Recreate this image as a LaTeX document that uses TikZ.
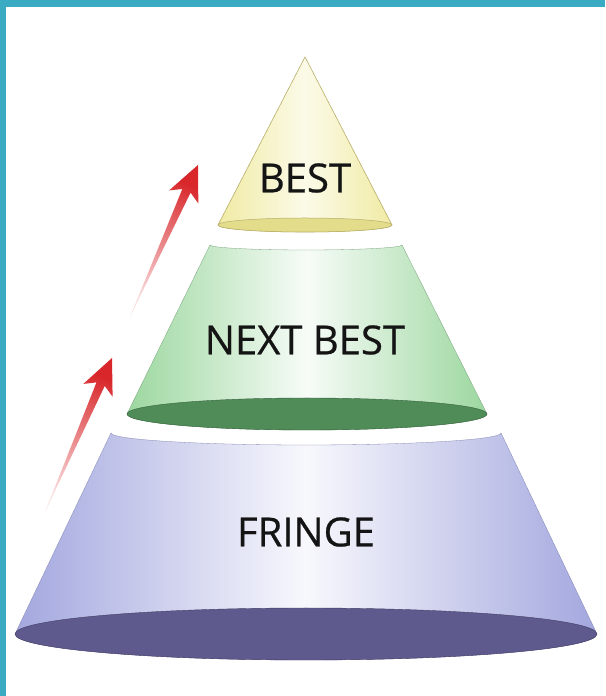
\documentclass[tikz,border=0pt]{standalone}
\usepackage{fontspec}
\setmainfont{Open Sans}
\newfontfamily\tierfont{Open Sans}[FakeBold=0.6]
\usetikzlibrary{calc}
\definecolor{frameteal}{HTML}{3BABC4}
\definecolor{bestyellow}{HTML}{F0EBA4}
\definecolor{bestedge}{HTML}{B8AE68}
\definecolor{bestbase}{HTML}{E3DC8B}
\definecolor{nextgreen}{HTML}{9CD79F}
\definecolor{nextbase}{HTML}{4F8C58}
\definecolor{fringeblue}{HTML}{A3A7DE}
\definecolor{fringebase}{HTML}{5E5A8E}
\definecolor{riserred}{HTML}{D8262A}

\begin{document}
\begin{tikzpicture}[x=1pt, y=1pt,
    tiertext/.style={inner sep=0pt, font=\tierfont\fontsize{40}{40}\selectfont, text=black!92},
    riser/.style={top color=riserred, bottom color=riserred!15, shading angle=-24}]
  \useasboundingbox (0,0) rectangle (605,696);
  \fill[white] (0,0) rectangle (605,696);

  % Frame
  \fill[frameteal] (0,689) rectangle (605,696);
  \fill[frameteal] (0,0) rectangle (6,696);

  % Fringe
  \shade[left color=fringeblue, right color=fringeblue, middle color=fringeblue!8, draw=fringeblue!80!black, line width=0.3pt]
    (111,263) arc[start angle=180, end angle=360, x radius=195, y radius=12]
    -- (597,62) arc[start angle=0, end angle=-180, x radius=291, y radius=26] -- cycle;
  \fill[fringebase, draw=fringebase!70!black, line width=0.4pt] (306,62) ellipse[x radius=291, y radius=26];
  \node[tiertext] (fringe) at (306,164) {FRINGE};

  % Next best
  \shade[left color=nextgreen, right color=nextgreen, middle color=nextgreen!8, draw=nextgreen!75!black, line width=0.3pt]
    (210,451) arc[start angle=180, end angle=360, x radius=96, y radius=5]
    -- (487,282) arc[start angle=0, end angle=-180, x radius=180, y radius=16] -- cycle;
  \fill[nextbase, draw=nextbase!70!black, line width=0.4pt] (307,282) ellipse[x radius=180, y radius=16];
  \node[tiertext] (nextbest) at (305,356) {NEXT BEST};

  % Best
  \shade[left color=bestyellow, right color=bestyellow, middle color=bestyellow!25, draw=bestedge, line width=0.6pt]
    (305,639) -- (218,471) arc[start angle=180, end angle=360, x radius=87, y radius=7] -- cycle;
  \fill[bestbase, draw=bestedge, line width=0.5pt] (305,471) ellipse[x radius=87, y radius=7];
  \node[tiertext] (best) at (305,518) {BEST};

  % Risers
  \coordinate (lowtail) at (45,184);
  \coordinate (lowtip) at (112,338);
  \coordinate (lowneck) at ($(lowtail)!0.83!(lowtip)$);
  \coordinate (lowbarb) at ($(lowtail)!0.79!(lowtip)$);
  \shade[riser] (lowtail) -- ($(lowneck)!4.5pt!-90:(lowtip)$) -- ($(lowbarb)!16pt!-90:(lowtip)$)
    -- (lowtip) -- ($(lowbarb)!16pt!90:(lowtip)$) -- ($(lowneck)!4.5pt!90:(lowtip)$) -- cycle;

  \coordinate (hightail) at (130,379);
  \coordinate (hightip) at (198,531);
  \coordinate (highneck) at ($(hightail)!0.83!(hightip)$);
  \coordinate (highbarb) at ($(hightail)!0.79!(hightip)$);
  \shade[riser] (hightail) -- ($(highneck)!4.5pt!-90:(hightip)$) -- ($(highbarb)!16pt!-90:(hightip)$)
    -- (hightip) -- ($(highbarb)!16pt!90:(hightip)$) -- ($(highneck)!4.5pt!90:(hightip)$) -- cycle;
\end{tikzpicture}
\end{document}
